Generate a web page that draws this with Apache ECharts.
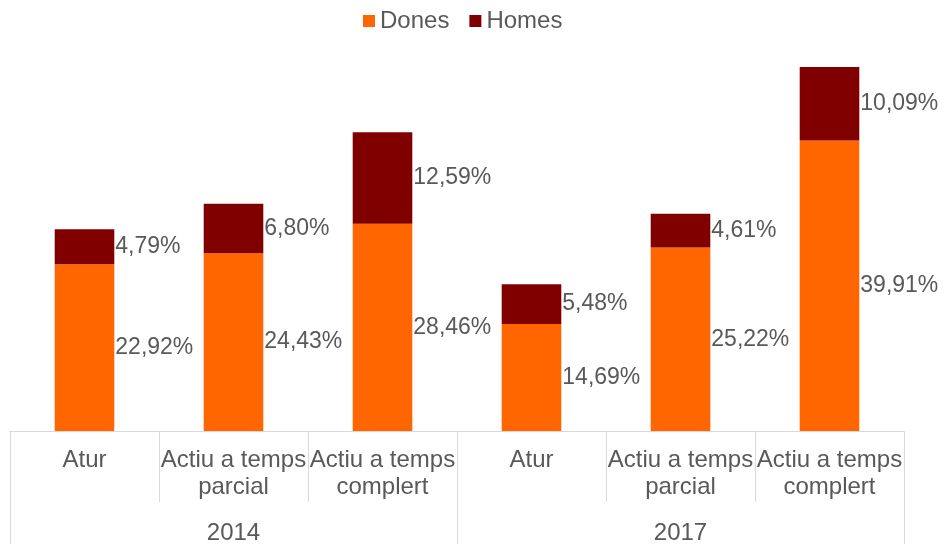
<!DOCTYPE html>
<html><head><meta charset="utf-8">
<script src="https://cdn.jsdelivr.net/npm/echarts@6/dist/echarts.min.js"></script>
<style>html,body{margin:0;padding:0;background:#fff}#c{width:944px;height:547px}</style>
</head><body><div id="c"></div>
<script>
const categories = ['Atur', 'Actiu a temps\nparcial', 'Actiu a temps\ncomplert', 'Atur', 'Actiu a temps\nparcial', 'Actiu a temps\ncomplert'];
const years = ['2014', '2017'];
const dones = [22.92, 24.43, 28.46, 14.69, 25.22, 39.91];
const homes = [4.79, 6.80, 12.59, 5.48, 4.61, 10.09];

const FONT = 'Arial';
const TXT = '#595959';
const AX = '#d9d9d9';
const SZ = 23;
const SZ_AX = 24;
const fmt = p => p.value.toFixed(2).replace('.', ',') + '%';

const chart = echarts.init(document.getElementById('c'));
chart.setOption({
  animation: false,
  textStyle: { fontFamily: FONT },
  legend: {
    top: 9, left: 363, padding: 0, itemWidth: 12, itemHeight: 12, itemGap: 20, icon: 'rect',
    textStyle: { fontSize: SZ_AX, color: TXT, fontFamily: FONT },
    data: ['Dones', 'Homes']
  },
  grid: { left: 10, right: 40, top: 67, bottom: 112.5, containLabel: false },
  xAxis: [
    {
      type: 'category', data: categories, position: 'bottom',
      axisLine: { show: true, lineStyle: { color: AX, width: 1 } },
      axisTick: { show: true, interval: 0, length: 71, lineStyle: { color: AX, width: 1 } },
      axisLabel: { interval: 0, hideOverlap: false, margin: 16, fontSize: SZ_AX, lineHeight: 27, color: TXT, fontFamily: FONT }
    },
    {
      type: 'category', data: years, position: 'bottom',
      axisLine: { show: true, lineStyle: { color: AX, width: 1 } },
      axisTick: { show: true, interval: 0, length: 113, lineStyle: { color: AX, width: 1 } },
      axisLabel: { interval: 0, margin: 89, fontSize: SZ_AX, lineHeight: 27, color: TXT, fontFamily: FONT }
    }
  ],
  yAxis: { type: 'value', min: 0, max: 50, show: false, splitLine: { show: false } },
  series: [
    {
      name: 'Dones', type: 'bar', stack: 'total', xAxisIndex: 0, barWidth: '40%',
      itemStyle: { color: '#ff6600' }, data: dones,
      label: { show: true, position: 'right', distance: 1, formatter: fmt, fontSize: SZ, color: TXT, fontFamily: FONT }
    },
    {
      name: 'Homes', type: 'bar', stack: 'total', xAxisIndex: 0, barWidth: '40%',
      itemStyle: { color: '#800000' }, data: homes,
      label: { show: true, position: 'right', distance: 1, formatter: fmt, fontSize: SZ, color: TXT, fontFamily: FONT }
    }
  ]
});
</script></body></html>
